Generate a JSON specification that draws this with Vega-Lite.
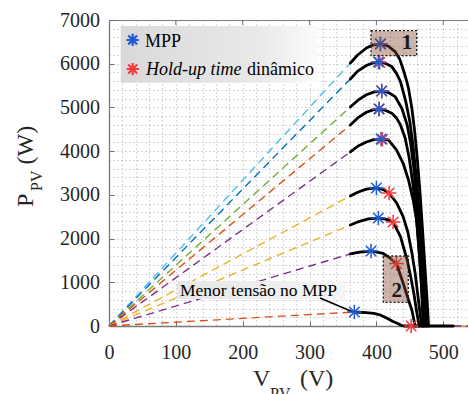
{
  "$schema": "https://vega.github.io/schema/vega-lite/v6.json",
  "width": 361,
  "height": 306,
  "autosize": {"type": "none"},
  "padding": {"left": 109, "top": 20, "right": 0, "bottom": 68},
  "background": "white",
  "config": {
    "view": {"stroke": "#7a7a7a", "strokeWidth": 1},
    "font": "Liberation Serif",
    "text": {"font": "Liberation Serif"}
  },
  "encoding": {
    "x": {
      "field": "V",
      "type": "quantitative",
      "scale": {"domain": [0, 540], "nice": false, "zero": false},
      "axis": {
        "title": null,
        "values": [0, 20, 40, 60, 80, 100, 120, 140, 160, 180, 200, 220, 240, 260, 280, 300, 320, 340, 360, 380, 400, 420, 440, 460, 480, 500, 520, 540],
        "format": "d",
        "labelExpr": "datum.value % 100 === 0 ? datum.label : ''",
        "labelFlush": false,
        "labelOverlap": false,
        "labelFont": "Liberation Serif",
        "labelFontSize": 20,
        "labelColor": "#262626",
        "labelPadding": 21,
        "tickSize": -5,
        "tickColor": "#6e6e6e",
        "tickOpacity": {"condition": {"test": "datum.value % 100 !== 0", "value": 0}, "value": 1},
        "domainColor": "#7a7a7a",
        "domainWidth": 1.3,
        "grid": true,
        "gridColor": "#8c8c8c",
        "gridDash": [1, 3],
        "gridWidth": 1,
        "gridOpacity": 0.7
      }
    },
    "y": {
      "field": "P",
      "type": "quantitative",
      "scale": {"domain": [0, 7000], "nice": false, "zero": false},
      "axis": {
        "title": null,
        "values": [0, 200, 400, 600, 800, 1000, 1200, 1400, 1600, 1800, 2000, 2200, 2400, 2600, 2800, 3000, 3200, 3400, 3600, 3800, 4000, 4200, 4400, 4600, 4800, 5000, 5200, 5400, 5600, 5800, 6000, 6200, 6400, 6600, 6800, 7000],
        "format": "d",
        "labelExpr": "datum.value % 1000 === 0 ? datum.label : ''",
        "labelFlush": false,
        "labelOverlap": false,
        "labelFont": "Liberation Serif",
        "labelFontSize": 20,
        "labelColor": "#262626",
        "labelPadding": 14.5,
        "tickSize": -5,
        "tickColor": "#6e6e6e",
        "tickOpacity": {"condition": {"test": "datum.value % 1000 !== 0", "value": 0}, "value": 1},
        "domainColor": "#7a7a7a",
        "domainWidth": 1.3,
        "grid": true,
        "gridColor": "#8c8c8c",
        "gridDash": [1, 3],
        "gridWidth": 1,
        "gridOpacity": 0.7
      }
    }
  },
  "layer": [
    {
      "description": "Load lines from the origin to the start of each P-V curve",
      "data": {"values": [
        {"series": "c1", "V": 0, "P": 0}, {"series": "c1", "V": 361, "P": 6018},
        {"series": "c2", "V": 0, "P": 0}, {"series": "c2", "V": 361, "P": 5652},
        {"series": "c3", "V": 0, "P": 0}, {"series": "c3", "V": 361, "P": 5011},
        {"series": "c4", "V": 0, "P": 0}, {"series": "c4", "V": 361, "P": 4600},
        {"series": "c5", "V": 0, "P": 0}, {"series": "c5", "V": 361, "P": 3982},
        {"series": "c6", "V": 0, "P": 0}, {"series": "c6", "V": 361, "P": 2975},
        {"series": "c7", "V": 0, "P": 0}, {"series": "c7", "V": 361, "P": 2311},
        {"series": "c8", "V": 0, "P": 0}, {"series": "c8", "V": 361, "P": 1648},
        {"series": "c9", "V": 0, "P": 0}, {"series": "c9", "V": 367, "P": 320},
        {"series": "t6", "V": 521, "P": 0}, {"series": "t6", "V": 540, "P": 0},
        {"series": "t8", "V": 515, "P": 0}, {"series": "t8", "V": 540, "P": 0}
      ]},
      "mark": {"type": "line", "strokeWidth": 1.4, "strokeDash": [8, 5]},
      "encoding": {
        "color": {
          "field": "series",
          "type": "nominal",
          "legend": null,
          "scale": {
            "domain": ["c1", "c2", "c3", "c4", "c5", "c6", "c7", "c8", "c9", "t6", "t8"],
            "range": ["#4DBEEE", "#0072BD", "#77AC30", "#D95319", "#7E2F8E", "#EDB120", "#EDB120", "#7E2F8E", "#D95319", "#EDB120", "#7E2F8E"]
          }
        }
      }
    },
    {
      "description": "Legend background",
      "data": {"values": [{"V": 17.5, "V2": 312.6, "P": 6863, "P2": 5566}]},
      "mark": {
        "type": "rect",
        "stroke": null,
        "fill": {"gradient": "linear", "x1": 0, "x2": 1, "y1": 0, "y2": 0,
          "stops": [{"offset": 0, "color": "#d9d9d9"}, {"offset": 0.7, "color": "#e9e9e9"}, {"offset": 1, "color": "#fbfbfb"}]}
      },
      "encoding": {"x2": {"field": "V2"}, "y2": {"field": "P2"}}
    },
    {
      "description": "Background of the note on the lowest MPP voltage",
      "data": {"values": [{"V": 101.7, "V2": 353, "P": 1029.5, "P2": 617.7}]},
      "mark": {
        "type": "rect",
        "stroke": null,
        "fill": {"gradient": "linear", "x1": 0, "x2": 1, "y1": 0, "y2": 0,
          "stops": [{"offset": 0, "color": "#e6e6e6"}, {"offset": 1, "color": "#f5f5f5"}]}
      },
      "encoding": {"x2": {"field": "V2"}, "y2": {"field": "P2"}}
    },
    {
      "description": "P-V curves",
      "data": {"values": [
        {"series": "c1", "V": 361, "P": 6018}, {"series": "c1", "V": 372, "P": 6200}, {"series": "c1", "V": 385, "P": 6360}, {"series": "c1", "V": 395, "P": 6430}, {"series": "c1", "V": 406, "P": 6453}, {"series": "c1", "V": 418, "P": 6400}, {"series": "c1", "V": 428, "P": 6277}, {"series": "c1", "V": 435, "P": 6100}, {"series": "c1", "V": 440, "P": 5874}, {"series": "c1", "V": 445, "P": 5620}, {"series": "c1", "V": 448, "P": 5439}, {"series": "c1", "V": 453, "P": 4981}, {"series": "c1", "V": 457, "P": 4485}, {"series": "c1", "V": 461, "P": 3850}, {"series": "c1", "V": 465, "P": 3100}, {"series": "c1", "V": 469, "P": 2200}, {"series": "c1", "V": 473, "P": 1250}, {"series": "c1", "V": 476, "P": 550}, {"series": "c1", "V": 478, "P": 0},
        {"series": "c2", "V": 361, "P": 5652}, {"series": "c2", "V": 372, "P": 5830}, {"series": "c2", "V": 385, "P": 5960}, {"series": "c2", "V": 395, "P": 6020}, {"series": "c2", "V": 403, "P": 6041}, {"series": "c2", "V": 413, "P": 6010}, {"series": "c2", "V": 423, "P": 5934}, {"series": "c2", "V": 430, "P": 5780}, {"series": "c2", "V": 436, "P": 5590}, {"series": "c2", "V": 444, "P": 5133}, {"series": "c2", "V": 450, "P": 4675}, {"series": "c2", "V": 455, "P": 4100}, {"series": "c2", "V": 460, "P": 3350}, {"series": "c2", "V": 464, "P": 2600}, {"series": "c2", "V": 468, "P": 1700}, {"series": "c2", "V": 472, "P": 800}, {"series": "c2", "V": 475, "P": 0},
        {"series": "c3", "V": 361, "P": 5011}, {"series": "c3", "V": 372, "P": 5160}, {"series": "c3", "V": 385, "P": 5290}, {"series": "c3", "V": 397, "P": 5355}, {"series": "c3", "V": 408, "P": 5377}, {"series": "c3", "V": 418, "P": 5340}, {"series": "c3", "V": 428, "P": 5247}, {"series": "c3", "V": 438, "P": 4981}, {"series": "c3", "V": 446, "P": 4600}, {"series": "c3", "V": 451, "P": 4200}, {"series": "c3", "V": 456, "P": 3600}, {"series": "c3", "V": 461, "P": 2750}, {"series": "c3", "V": 465, "P": 1900}, {"series": "c3", "V": 469, "P": 1000}, {"series": "c3", "V": 473, "P": 0},
        {"series": "c4", "V": 361, "P": 4600}, {"series": "c4", "V": 372, "P": 4760}, {"series": "c4", "V": 385, "P": 4890}, {"series": "c4", "V": 395, "P": 4945}, {"series": "c4", "V": 404, "P": 4966}, {"series": "c4", "V": 414, "P": 4930}, {"series": "c4", "V": 423, "P": 4867}, {"series": "c4", "V": 430, "P": 4760}, {"series": "c4", "V": 436, "P": 4600}, {"series": "c4", "V": 443, "P": 4300}, {"series": "c4", "V": 449, "P": 3850}, {"series": "c4", "V": 455, "P": 3200}, {"series": "c4", "V": 460, "P": 2500}, {"series": "c4", "V": 464, "P": 1700}, {"series": "c4", "V": 468, "P": 850}, {"series": "c4", "V": 471, "P": 0},
        {"series": "c5", "V": 361, "P": 3982}, {"series": "c5", "V": 372, "P": 4110}, {"series": "c5", "V": 385, "P": 4210}, {"series": "c5", "V": 396, "P": 4262}, {"series": "c5", "V": 407, "P": 4279}, {"series": "c5", "V": 418, "P": 4255}, {"series": "c5", "V": 430, "P": 4027}, {"series": "c5", "V": 440, "P": 3722}, {"series": "c5", "V": 448, "P": 3340}, {"series": "c5", "V": 455, "P": 2880}, {"series": "c5", "V": 460, "P": 2420}, {"series": "c5", "V": 464, "P": 1700}, {"series": "c5", "V": 467, "P": 1000}, {"series": "c5", "V": 470, "P": 0},
        {"series": "c6", "V": 361, "P": 2975}, {"series": "c6", "V": 372, "P": 3060}, {"series": "c6", "V": 385, "P": 3130}, {"series": "c6", "V": 400, "P": 3158}, {"series": "c6", "V": 410, "P": 3120}, {"series": "c6", "V": 419, "P": 3043}, {"series": "c6", "V": 430, "P": 2820}, {"series": "c6", "V": 440, "P": 2500}, {"series": "c6", "V": 447, "P": 2150}, {"series": "c6", "V": 453, "P": 1680}, {"series": "c6", "V": 458, "P": 1200}, {"series": "c6", "V": 462, "P": 700}, {"series": "c6", "V": 466, "P": 200}, {"series": "c6", "V": 468, "P": 0},
        {"series": "c7", "V": 361, "P": 2311}, {"series": "c7", "V": 372, "P": 2380}, {"series": "c7", "V": 388, "P": 2450}, {"series": "c7", "V": 403, "P": 2471}, {"series": "c7", "V": 415, "P": 2440}, {"series": "c7", "V": 425, "P": 2380}, {"series": "c7", "V": 436, "P": 2043}, {"series": "c7", "V": 446, "P": 1510}, {"series": "c7", "V": 451, "P": 1150}, {"series": "c7", "V": 456, "P": 750}, {"series": "c7", "V": 460, "P": 350}, {"series": "c7", "V": 464, "P": 0},
        {"series": "c8", "V": 361, "P": 1648}, {"series": "c8", "V": 375, "P": 1690}, {"series": "c8", "V": 392, "P": 1716}, {"series": "c8", "V": 410, "P": 1663}, {"series": "c8", "V": 420, "P": 1560}, {"series": "c8", "V": 430, "P": 1430}, {"series": "c8", "V": 440, "P": 980}, {"series": "c8", "V": 448, "P": 595}, {"series": "c8", "V": 453, "P": 366}, {"series": "c8", "V": 456, "P": 150}, {"series": "c8", "V": 458, "P": 0},
        {"series": "c9", "V": 367, "P": 320}, {"series": "c9", "V": 385, "P": 305}, {"series": "c9", "V": 396, "P": 290}, {"series": "c9", "V": 405, "P": 255}, {"series": "c9", "V": 416, "P": 176}, {"series": "c9", "V": 424, "P": 110}, {"series": "c9", "V": 431, "P": 62}, {"series": "c9", "V": 437, "P": 15}, {"series": "c9", "V": 441, "P": 0}, {"series": "c9", "V": 515, "P": 0}
      ]},
      "mark": {"type": "line", "color": "black", "strokeWidth": 2.8, "strokeJoin": "round", "strokeCap": "round"},
      "encoding": {"detail": {"field": "series", "type": "nominal"}}
    },
    {
      "description": "Pointer from the note to the lowest MPP",
      "data": {"values": [{"V": 315.6, "P": 640.5, "V2": 365, "P2": 320.3}]},
      "mark": {"type": "rule", "color": "black", "strokeWidth": 1.8},
      "encoding": {"x2": {"field": "V2"}, "y2": {"field": "P2"}}
    },
    {
      "description": "Dynamic hold-up time operating points",
      "data": {"values": [
        {"V": 406, "P": 6453}, {"V": 405, "P": 6030}, {"V": 408, "P": 5377}, {"V": 404, "P": 4966}, {"V": 409, "P": 4270},
        {"V": 419, "P": 3043}, {"V": 425, "P": 2380}, {"V": 430, "P": 1430}, {"V": 452, "P": 0}
      ]},
      "mark": {"type": "point", "shape": "M-1,0L1,0M0,-1L0,1M-0.72,-0.72L0.72,0.72M-0.72,0.72L0.72,-0.72", "filled": false, "color": "#f23a3a", "strokeWidth": 1.5, "size": 210, "opacity": 1}
    },
    {
      "description": "Maximum power points",
      "data": {"values": [
        {"V": 406, "P": 6453}, {"V": 403, "P": 6041}, {"V": 408, "P": 5377}, {"V": 404, "P": 4966}, {"V": 407, "P": 4279},
        {"V": 400, "P": 3158}, {"V": 403, "P": 2471}, {"V": 392, "P": 1716}, {"V": 367, "P": 320}
      ]},
      "mark": {"type": "point", "shape": "M-1,0L1,0M0,-1L0,1M-0.72,-0.72L0.72,0.72M-0.72,0.72L0.72,-0.72", "filled": false, "color": "#1f5bd0", "strokeWidth": 1.5, "size": 210, "opacity": 1}
    },
    {
      "description": "Highlight boxes 1 and 2",
      "data": {"values": [
        {"V": 391.9, "V2": 460.3, "P": 6755, "P2": 6183},
        {"V": 410.3, "V2": 447.7, "P": 1601, "P2": 542}
      ]},
      "mark": {"type": "rect", "fill": "#82432a", "fillOpacity": 0.4, "stroke": "#1a1a1a", "strokeWidth": 1.3, "strokeDash": [2, 2]},
      "encoding": {"x2": {"field": "V2"}, "y2": {"field": "P2"}}
    },
    {
      "data": {"values": [{"V": 445.9, "P": 6468, "t": "1"}, {"V": 430.4, "P": 808, "t": "2"}]},
      "mark": {"type": "text", "font": "Liberation Serif", "fontSize": 21, "fontWeight": "bold", "color": "#1a1a1a", "align": "center", "baseline": "middle"},
      "encoding": {"text": {"field": "t"}}
    },
    {
      "description": "Legend symbols",
      "data": {"values": [{"V": 35.4, "P": 6543}]},
      "mark": {"type": "point", "shape": "M-1,0L1,0M0,-1L0,1M-0.72,-0.72L0.72,0.72M-0.72,0.72L0.72,-0.72", "filled": false, "color": "#1f5bd0", "strokeWidth": 2.2, "size": 150, "opacity": 1}
    },
    {
      "data": {"values": [{"V": 35.4, "P": 5879}]},
      "mark": {"type": "point", "shape": "M-1,0L1,0M0,-1L0,1M-0.72,-0.72L0.72,0.72M-0.72,0.72L0.72,-0.72", "filled": false, "color": "#f23a3a", "strokeWidth": 2.2, "size": 150, "opacity": 1}
    },
    {
      "description": "Legend labels",
      "data": {"values": [{"V": 53.85, "P": 6389, "t": "MPP"}, {"V": 206.5, "P": 5742, "t": "dinâmico"}]},
      "mark": {"type": "text", "font": "Liberation Serif", "fontSize": 18, "color": "black", "align": "left", "baseline": "alphabetic"},
      "encoding": {"text": {"field": "t"}}
    },
    {
      "data": {"values": [{"V": 55.3, "P": 5742, "t": "Hold-up time"}]},
      "mark": {"type": "text", "font": "Liberation Serif", "fontSize": 18, "fontStyle": "italic", "color": "black", "align": "left", "baseline": "alphabetic"},
      "encoding": {"text": {"field": "t"}}
    },
    {
      "data": {"values": [{"V": 106.2, "P": 686, "t": "Menor tensão no MPP"}]},
      "mark": {"type": "text", "font": "Liberation Serif", "fontSize": 17.5, "color": "black", "align": "left", "baseline": "alphabetic"},
      "encoding": {"text": {"field": "t"}}
    },
    {
      "description": "Axis titles with subscripts",
      "data": {"values": [{"V": 215.4, "P": -1372.6, "t": "V"}, {"V": 285.7, "P": -1372.6, "t": "(V)"}]},
      "mark": {"type": "text", "font": "Liberation Serif", "fontSize": 24, "color": "#262626", "align": "left", "baseline": "alphabetic"},
      "encoding": {"text": {"field": "t"}}
    },
    {
      "data": {"values": [{"V": 240.8, "P": -1661, "t": "PV"}]},
      "mark": {"type": "text", "font": "Liberation Serif", "fontSize": 16, "color": "#262626", "align": "left", "baseline": "alphabetic"},
      "encoding": {"text": {"field": "t"}}
    },
    {
      "data": {"values": [{"V": -113.7, "P": 2722, "t": "P"}, {"V": -113.7, "P": 3694, "t": "(W)"}]},
      "mark": {"type": "text", "font": "Liberation Serif", "fontSize": 24, "color": "#262626", "align": "left", "baseline": "alphabetic", "angle": 270},
      "encoding": {"text": {"field": "t"}}
    },
    {
      "data": {"values": [{"V": -100.2, "P": 3088, "t": "PV"}]},
      "mark": {"type": "text", "font": "Liberation Serif", "fontSize": 16, "color": "#262626", "align": "left", "baseline": "alphabetic", "angle": 270},
      "encoding": {"text": {"field": "t"}}
    },
    {
      "description": "Tick marks along the top edge",
      "data": {"values": [
        {"V": 100, "P": 7000, "P2": 6886}, {"V": 200, "P": 7000, "P2": 6886}, {"V": 300, "P": 7000, "P2": 6886},
        {"V": 400, "P": 7000, "P2": 6886}, {"V": 500, "P": 7000, "P2": 6886}
      ]},
      "mark": {"type": "rule", "color": "#6e6e6e", "strokeWidth": 1},
      "encoding": {"y2": {"field": "P2"}}
    }
  ]
}
